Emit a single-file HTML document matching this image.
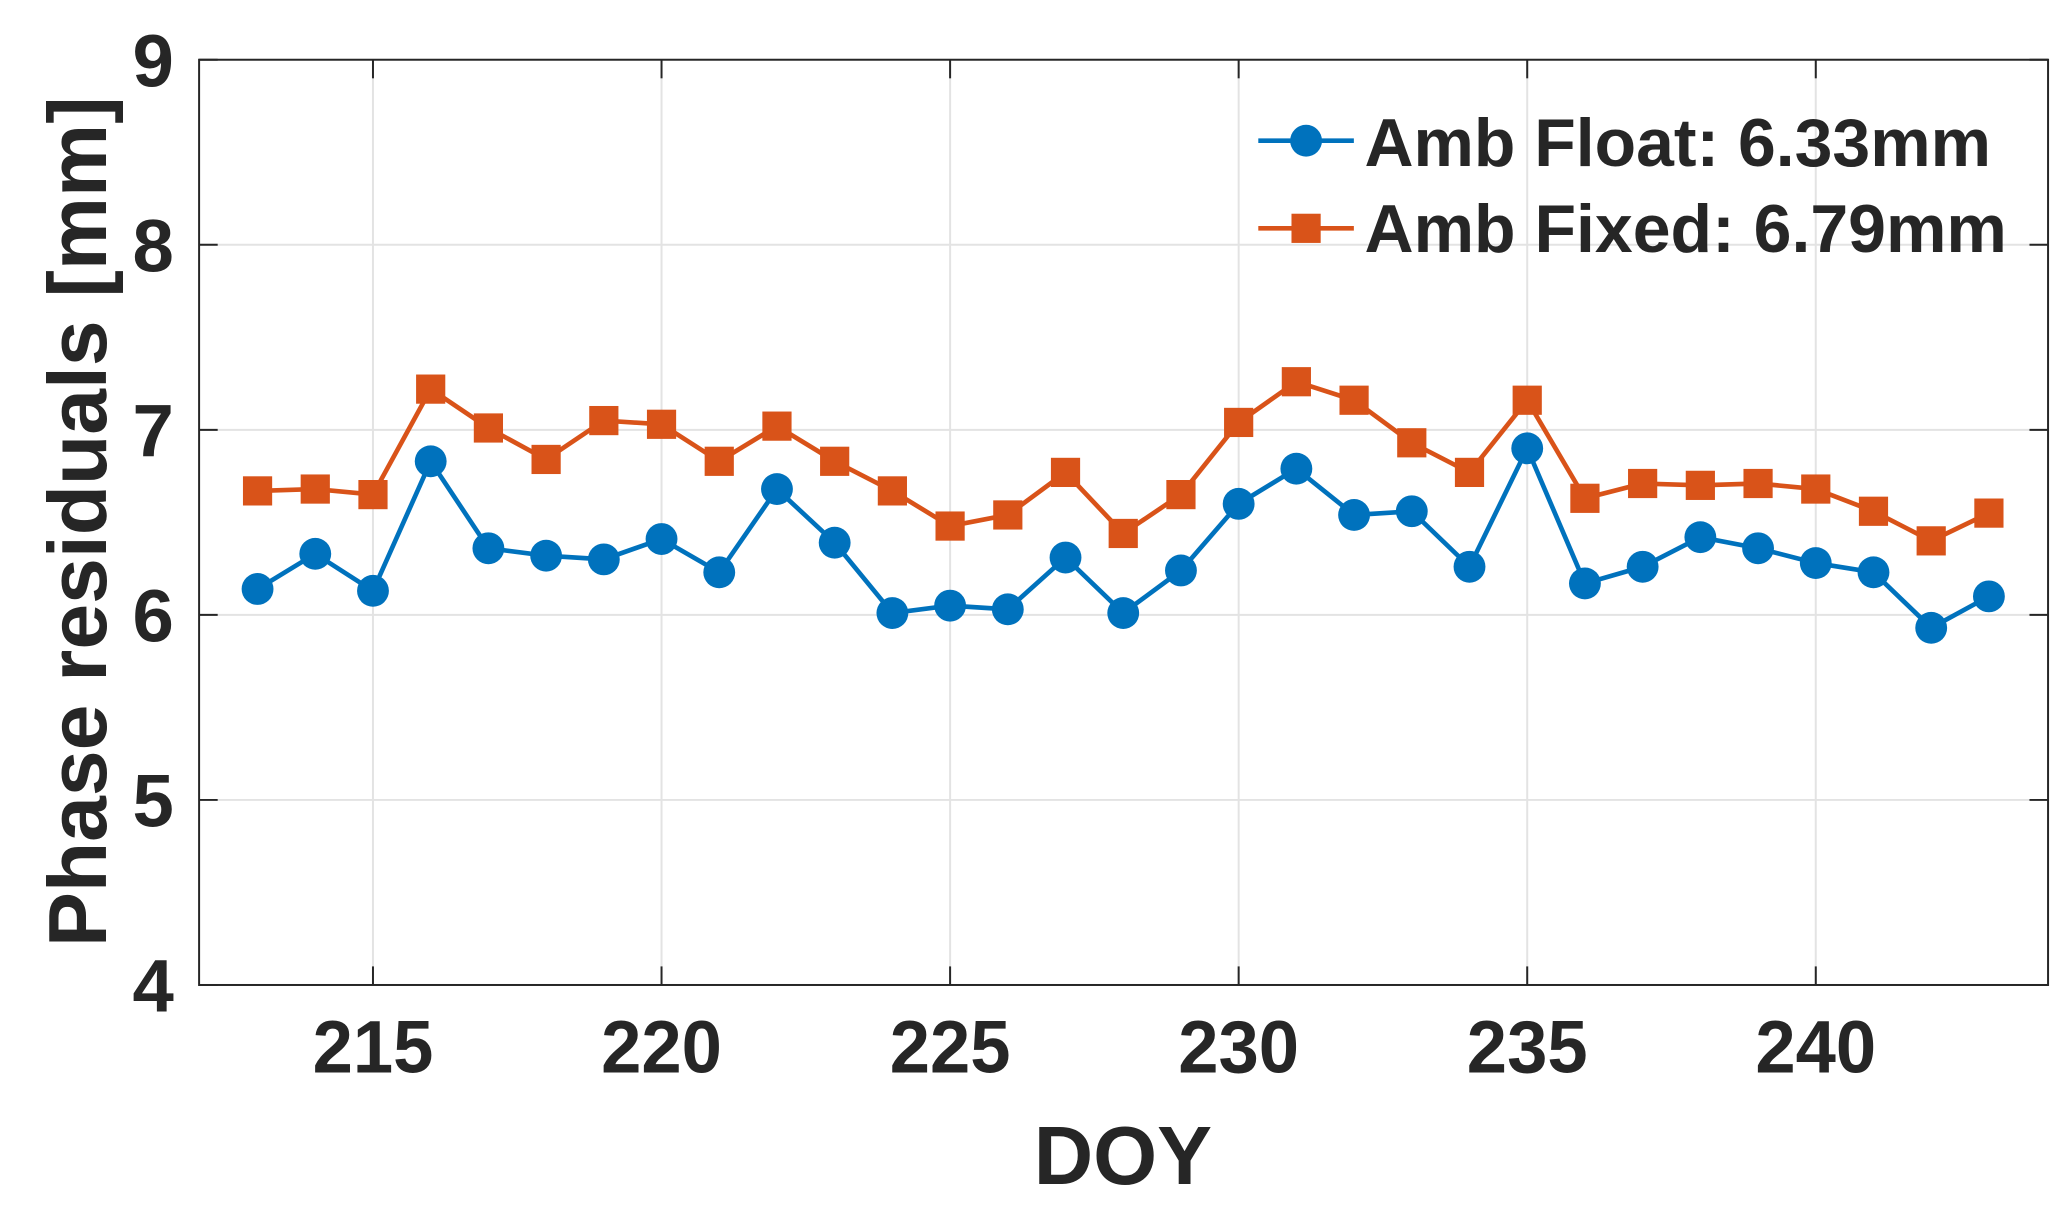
<!DOCTYPE html>
<html><head><meta charset="utf-8"><style>
html,body{margin:0;padding:0;background:#fff;}
svg{display:block;}
text{font-family:"Liberation Sans",sans-serif;font-weight:bold;fill:#262626;}
</style></head><body>
<svg id="c" width="2060" height="1208" viewBox="0 0 1552 910" preserveAspectRatio="none" xmlns="http://www.w3.org/2000/svg"></svg>
<script>
const s=document.getElementById('c');
const X=d=>281+(d-215)*43.48, Y=v=>742-(v-4)*139.4;
let h='<rect x="0" y="0" width="1552" height="910" fill="#fff"/>';
for(let d=215;d<=240;d+=5)h+=`<line x1="${X(d)}" y1="45" x2="${X(d)}" y2="742" stroke="#e3e3e3" stroke-width="1.5"/>`;
for(let v=5;v<=8;v++)h+=`<line x1="150" y1="${Y(v)}" x2="1543" y2="${Y(v)}" stroke="#e3e3e3" stroke-width="1.5"/>`;
h+='<rect x="150" y="45" width="1393" height="697" fill="none" stroke="#262626" stroke-width="1.5"/>';
for(let d=215;d<=240;d+=5){h+=`<line x1="${X(d)}" y1="742" x2="${X(d)}" y2="728" stroke="#262626" stroke-width="1.5"/><line x1="${X(d)}" y1="45" x2="${X(d)}" y2="59" stroke="#262626" stroke-width="1.5"/><text x="${X(d)}" y="808" font-size="56" text-anchor="middle" textLength="91" lengthAdjust="spacingAndGlyphs">${d}</text>`;}
for(let v=4;v<=9;v++){h+=`<line x1="150" y1="${Y(v)}" x2="164" y2="${Y(v)}" stroke="#262626" stroke-width="1.5"/><line x1="1543" y1="${Y(v)}" x2="1529" y2="${Y(v)}" stroke="#262626" stroke-width="1.5"/><text x="131" y="${Y(v)+20}" font-size="56" text-anchor="end">${v}</text>`;}
h+='<text x="846" y="892" font-size="62" text-anchor="middle">DOY</text>';
h+='<text transform="translate(80,393) rotate(-90)" font-size="62" text-anchor="middle">Phase residuals [mm]</text>';
const fl=[6.14,6.33,6.13,6.83,6.36,6.32,6.30,6.41,6.23,6.68,6.39,6.01,6.05,6.03,6.31,6.01,6.24,6.60,6.79,6.54,6.56,6.26,6.90,6.17,6.26,6.42,6.36,6.28,6.23,5.93,6.10];
const fx=[6.67,6.68,6.65,7.22,7.01,6.84,7.05,7.03,6.83,7.02,6.83,6.67,6.48,6.54,6.77,6.44,6.65,7.04,7.26,7.16,6.93,6.77,7.16,6.63,6.71,6.70,6.71,6.68,6.56,6.40,6.55];
function ser(a,c,sq){let p=a.map((v,i)=>X(213+i)+','+Y(v)).join(' ');
h+=`<polyline points="${p}" fill="none" stroke="${c}" stroke-width="3.5"/>`;
a.forEach((v,i)=>{const x=X(213+i),y=Y(v);h+=sq?`<rect x="${x-11}" y="${y-11}" width="22" height="22" fill="${c}"/>`:`<circle cx="${x}" cy="${y}" r="12" fill="${c}"/>`;});}
ser(fx,'#D95319',true);ser(fl,'#0072BD',false);
h+='<line x1="948" y1="106" x2="1020" y2="106" stroke="#0072BD" stroke-width="3.5"/><circle cx="984" cy="106" r="12" fill="#0072BD"/><text x="1028" y="125" font-size="51" textLength="472" lengthAdjust="spacingAndGlyphs">Amb Float: 6.33mm</text>';
h+='<line x1="948" y1="172" x2="1020" y2="172" stroke="#D95319" stroke-width="3.5"/><rect x="973" y="161" width="22" height="22" fill="#D95319"/><text x="1028" y="190" font-size="51" textLength="484" lengthAdjust="spacingAndGlyphs">Amb Fixed: 6.79mm</text>';
s.innerHTML=h;
</script>
</body></html>
